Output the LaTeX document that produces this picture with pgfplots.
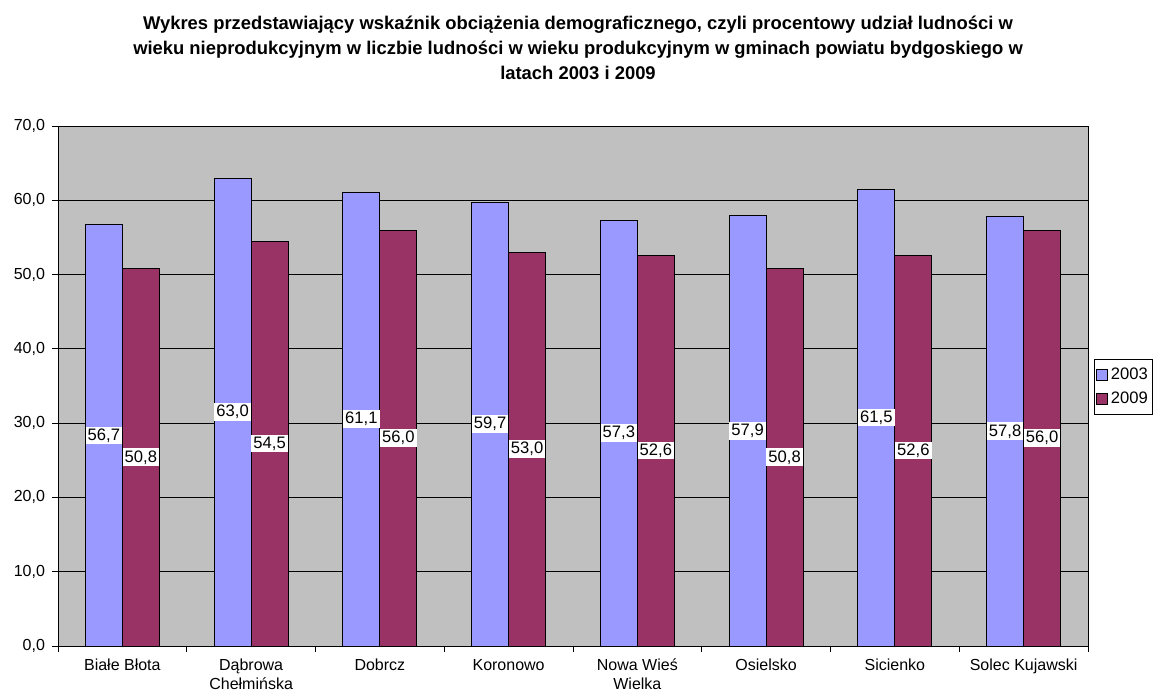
\documentclass[border=0pt]{standalone}
\usepackage{fontspec}
\setmainfont{Liberation Sans}
\usepackage{pgfplots}
\pgfplotsset{compat=1.18}
\definecolor{c2003}{HTML}{9999FF}
\definecolor{c2009}{HTML}{993366}
\definecolor{plotbg}{HTML}{C0C0C0}
\begin{document}
\begin{tikzpicture}
\path[use as bounding box, clip] (-29pt,-25pt) rectangle (549pt,323pt);
\node[align=center, font=\fontsize{9.2}{12.5}\selectfont\bfseries] at (260pt,299pt)
  {Wykres przedstawiający wskaźnik obciążenia demograficznego, czyli procentowy udział ludności w\\
   wieku nieprodukcyjnym w liczbie ludności w wieku produkcyjnym w gminach powiatu bydgoskiego w\\
   latach 2003 i 2009};
\begin{axis}[
  scale only axis,
  width=515pt, height=260pt,
  at={(0,0)}, anchor=south west,
  ybar=0pt, bar width=18.5pt,
  xmin=0.5, xmax=8.5,
  ymin=0, ymax=70,
  ytick={0,10,...,70},
  xtick={1,...,8},
  xticklabels={Białe Błota, Dąbrowa\\Chełmińska, Dobrcz, Koronowo, Nowa Wieś\\Wielka, Osielsko, Sicienko, Solec Kujawski},
  minor xtick={0.5,1.5,...,8.5},
  major x tick style={draw=none},
  tick align=outside,
  xtick pos=bottom, ytick pos=left,
  major tick length=3pt, minor tick length=3pt,
  tick style={black, thin},
  ymajorgrids, major grid style={black, thin},
  axis background/.style={fill=plotbg},
  axis line style={black, thin},
  /pgf/number format/.cd, use comma, fixed, fixed zerofill, precision=1, assume math mode=true,
  /pgfplots/.cd,
  tick label style={font=\fontsize{8}{9.5}\selectfont},
  xticklabel style={align=center},
  nodes near coords,
  visualization depends on=rawy \as \rawy,
  every node near coord/.append style={
    font=\fontsize{8.3}{9.5}\selectfont, fill=white, inner sep=1pt, text=black,
    anchor=center, shift={(axis direction cs:0,-\rawy/2)}},
  legend style={at={(1.0055,0.498)}, anchor=west, draw=black, fill=white,
    font=\fontsize{8.3}{10}\selectfont, row sep=1pt, inner xsep=1pt, inner ysep=2pt,
    nodes={inner xsep=1.5pt}},
  legend image code/.code={\draw[#1, draw=black, thin] (0pt,-2.75pt) rectangle (5.5pt,2.75pt);},
]
\addplot[fill=c2003, draw=black, thin] coordinates {
  (1,56.7) (2,63.0) (3,61.1) (4,59.7) (5,57.3) (6,57.9) (7,61.5) (8,57.8)};
\addplot[fill=c2009, draw=black, thin] coordinates {
  (1,50.8) (2,54.5) (3,56.0) (4,53.0) (5,52.6) (6,50.8) (7,52.6) (8,56.0)};
\legend{2003,2009}
\end{axis}
\end{tikzpicture}
\end{document}
